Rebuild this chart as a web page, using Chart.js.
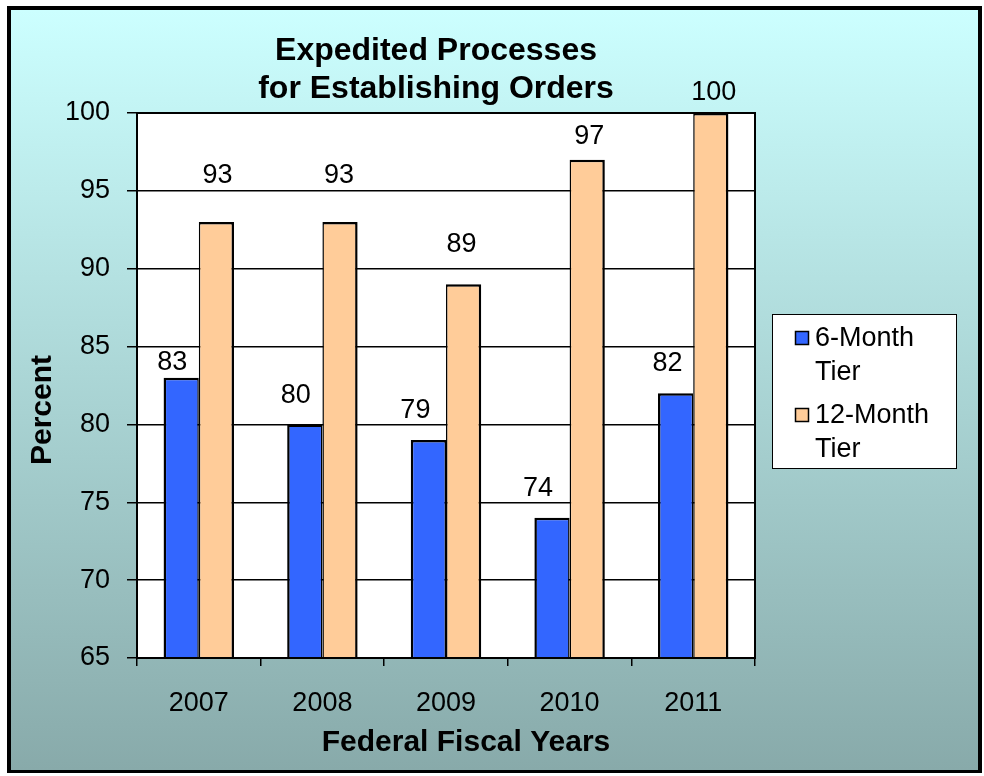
<!DOCTYPE html>
<html><head><meta charset="utf-8">
<script src="https://cdn.jsdelivr.net/npm/chart.js@4.4.1/dist/chart.umd.min.js"></script>
<style>html,body{margin:0;padding:0;background:#fff;} canvas{display:block;}</style>
</head><body>
<canvas id="c" width="984" height="776"></canvas>
<script>
// ---- data ----
const years = ['2007', '2008', '2009', '2010', '2011'];
const sixMonth = [83, 80, 79, 74, 82];
const twelveMonth = [93, 93, 89, 97, 100];
const seriesNames = [['6-Month', 'Tier'], ['12-Month', 'Tier']];
const titleLines = ['Expedited Processes', 'for Establishing Orders'];
const yAxisTitle = 'Percent';
const xAxisTitle = 'Federal Fiscal Years';
const yMin = 65, yMax = 100, yStep = 5;

// ---- style ----
const FONT = "'Liberation Sans', Arial, sans-serif";
const BLUE = '#3366FF', PEACH = '#FFCC99';
// data-label placement (pixels above bar top / horizontal nudge), mimicking the original
const labelLift = [[15, 29, 29, 29, 30], [46, 46, 40, 23, 20]];
const labelNudge = [[-9, -9, -13, -14, -8], [1, -1, -2, 2, 3]];

const decorPlugin = {
  id: 'decor',
  beforeDraw(chart) {
    const ctx = chart.ctx;
    ctx.save();
    ctx.fillStyle = '#fff';
    ctx.fillRect(0, 0, chart.width, chart.height);
    ctx.fillStyle = '#000';
    ctx.fillRect(7, 6, 975, 767);
    const g = ctx.createLinearGradient(0, 10, 0, 770);
    g.addColorStop(0, '#CCFFFF');
    g.addColorStop(1, '#88AAAA');
    ctx.fillStyle = g;
    ctx.fillRect(11, 10, 967, 760);
    const a = chart.chartArea;
    ctx.fillStyle = '#fff';
    ctx.fillRect(a.left, a.top, a.right - a.left, a.bottom - a.top);
    ctx.restore();
  },
  afterDatasetsDraw(chart) {
    const ctx = chart.ctx, a = chart.chartArea;
    ctx.save();
    ctx.strokeStyle = '#000';
    ctx.lineWidth = 2;
    ctx.strokeRect(a.left, a.top, a.right - a.left, a.bottom - a.top);
    ctx.restore();
  },
  afterDraw(chart) {
    const ctx = chart.ctx;
    ctx.save();
    ctx.fillStyle = '#000';
    ctx.textAlign = 'center';
    ctx.textBaseline = 'middle';
    // title
    ctx.font = 'bold 32px ' + FONT;
    ctx.fillText(titleLines[0], 436, 51);
    ctx.fillText(titleLines[1], 436, 89);
    // axis titles
    ctx.font = 'bold 30px ' + FONT;
    ctx.fillText(xAxisTitle, 466, 743);
    ctx.save();
    ctx.translate(43, 410);
    ctx.rotate(-Math.PI / 2);
    ctx.fillText(yAxisTitle, 0, 0);
    ctx.restore();
    // data labels
    ctx.font = '27px ' + FONT;
    chart.data.datasets.forEach((ds, di) => {
      const meta = chart.getDatasetMeta(di);
      meta.data.forEach((bar, i) => {
        ctx.fillText(String(ds.data[i]), bar.x + labelNudge[di][i], bar.y - labelLift[di][i]);
      });
    });
    // legend
    ctx.fillStyle = '#fff';
    ctx.fillRect(772.5, 314.5, 184, 154);
    ctx.strokeStyle = '#000';
    ctx.lineWidth = 1;
    ctx.strokeRect(772.5, 314.5, 184, 154);
    const rows = [331, 408];
    chart.data.datasets.forEach((ds, di) => {
      ctx.fillStyle = ds.backgroundColor;
      ctx.fillRect(795.5, rows[di] + 0.5, 13, 13);
      ctx.strokeStyle = '#000';
      ctx.lineWidth = 1.5;
      ctx.strokeRect(795.5, rows[di] + 0.5, 13, 13);
      ctx.fillStyle = '#000';
      ctx.textAlign = 'left';
      ctx.font = '27px ' + FONT;
      ctx.fillText(seriesNames[di][0], 815, rows[di] + 8);
      ctx.fillText(seriesNames[di][1], 815, rows[di] + 42);
    });
    ctx.restore();
  }
};

new Chart(document.getElementById('c'), {
  type: 'bar',
  data: {
    labels: years,
    datasets: [
      { label: seriesNames[0].join(' '), data: sixMonth, backgroundColor: BLUE,
        borderColor: '#000', borderWidth: { top: 2.5, left: 2.5, right: 1.5, bottom: 0 }, borderSkipped: false },
      { label: seriesNames[1].join(' '), data: twelveMonth, backgroundColor: PEACH,
        borderColor: '#000', borderWidth: { top: 2.5, left: 1.5, right: 2.5, bottom: 0 }, borderSkipped: false }
    ]
  },
  options: {
    responsive: false,
    animation: false,
    devicePixelRatio: 1,
    layout: { padding: { top: 113, right: 229, left: 0, bottom: 0 } },
    categoryPercentage: 0.57,
    barPercentage: 1.0,
    plugins: { legend: { display: false }, title: { display: false }, tooltip: { enabled: false } },
    scales: {
      x: {
        afterFit(s) { s.height = 118; },
        grid: { offset: true, drawOnChartArea: false, tickLength: 8, color: '#000', lineWidth: 1.5 },
        border: { color: '#000', width: 2 },
        ticks: { color: '#000', font: { family: FONT, size: 27 }, padding: 21, maxRotation: 0 }
      },
      y: {
        min: yMin, max: yMax,
        afterFit(s) { s.width = 137; },
        grid: { color: '#000', lineWidth: 1.5, tickLength: 10 },
        border: { color: '#000', width: 2 },
        ticks: { stepSize: yStep, color: '#000', font: { family: FONT, size: 27 }, padding: 17 }
      }
    }
  },
  plugins: [decorPlugin]
});
</script>
</body></html>
